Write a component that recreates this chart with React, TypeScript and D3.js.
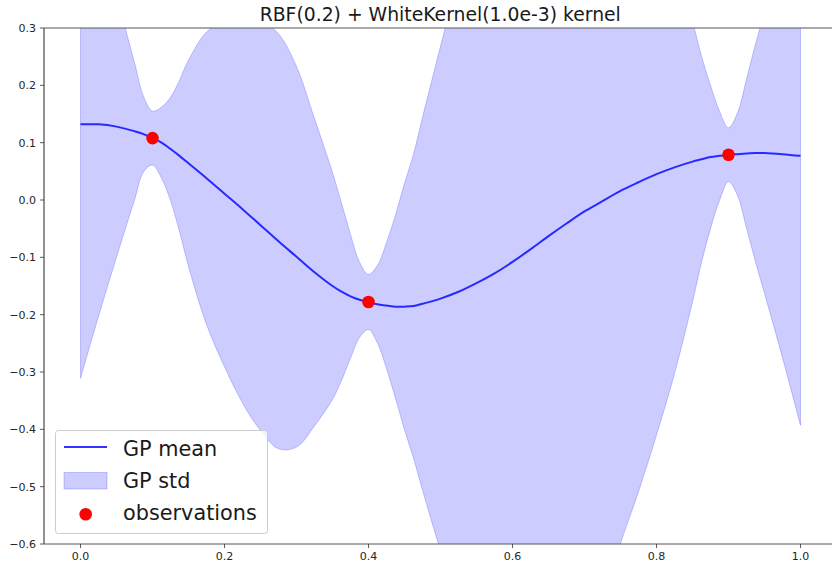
import React from "react";
import * as d3 from "d3";

const title = "RBF(0.2) + WhiteKernel(1.0e-3) kernel";

const gridX = [
  0.0, 0.025, 0.05, 0.075, 0.0875, 0.1, 0.1125, 0.125, 0.1375, 0.15, 0.175, 0.2, 0.225, 0.25, 0.275,
  0.3, 0.325, 0.35, 0.3625, 0.375, 0.3875, 0.4, 0.4125, 0.425, 0.4375, 0.45, 0.4625, 0.475, 0.5,
  0.525, 0.55, 0.575, 0.6, 0.625, 0.65, 0.675, 0.7, 0.725, 0.75, 0.775, 0.8, 0.825, 0.85, 0.8625,
  0.875, 0.8875, 0.9, 0.9125, 0.925, 0.9375, 0.95, 0.975, 1.0,
];

const gpMean = [
  0.132, 0.132, 0.128, 0.12, 0.115, 0.108, 0.1, 0.089, 0.077, 0.064, 0.038, 0.011, -0.016, -0.044, -0.072,
  -0.099, -0.126, -0.15, -0.16, -0.168, -0.174, -0.178, -0.182, -0.184, -0.186, -0.186, -0.185, -0.181, -0.172,
  -0.16, -0.145, -0.128, -0.108, -0.086, -0.063, -0.041, -0.02, -0.002, 0.016, 0.031, 0.045, 0.057, 0.067, 0.071,
  0.075, 0.077, 0.079, 0.08, 0.081, 0.082, 0.082, 0.08, 0.077,
];

const gpStd = [
  0.443, 0.335, 0.228, 0.12, 0.066, 0.047, 0.062, 0.09, 0.132, 0.18, 0.255, 0.302, 0.338, 0.358, 0.362,
  0.332, 0.268, 0.198, 0.155, 0.108, 0.066, 0.048, 0.068, 0.11, 0.16, 0.215, 0.265, 0.325, 0.44,
  0.55, 0.64, 0.71, 0.76, 0.79, 0.8, 0.79, 0.76, 0.7, 0.615, 0.54, 0.455, 0.36, 0.245, 0.18,
  0.125, 0.078, 0.047, 0.072, 0.13, 0.19, 0.245, 0.355, 0.47,
];

const obsX = [0.1, 0.4, 0.9];
const obsY = [0.108, -0.178, 0.079];

const xTicks = [0.0, 0.2, 0.4, 0.6, 0.8, 1.0];
const yTicks = [-0.6, -0.5, -0.4, -0.3, -0.2, -0.1, 0.0, 0.1, 0.2, 0.3];

const legendLabels = ["GP mean", "GP std", "observations"];

const W = 832;
const H = 564;
const L = 44;
const R = 836.5;
const T = 28;
const B = 544;

export default function App() {
  const x = d3.scaleLinear().domain([-0.05, 1.05]).range([L + 0.5, R]);
  const y = d3.scaleLinear().domain([-0.6, 0.3]).range([B, T]);
  const fmt = d3.format(".1f");

  const pts = gridX.map((v, i) => ({ x: v, m: gpMean[i], s: gpStd[i] }));
  const area = d3
    .area<any>()
    .x((d) => x(d.x))
    .y0((d) => y(d.m - d.s))
    .y1((d) => y(d.m + d.s))
    .curve(d3.curveCatmullRom.alpha(0.5));
  const line = d3
    .line<any>()
    .x((d) => x(d.x))
    .y((d) => y(d.m))
    .curve(d3.curveCatmullRom.alpha(0.5));

  const font = "'DejaVu Sans', sans-serif";

  return (
    <svg
      width={W}
      height={H}
      style={{ position: "absolute", left: 0, top: 0, background: "#fff" }}
      fontFamily={font}
    >
      <defs>
        <clipPath id="plotclip">
          <rect x={L} y={T} width={R - L} height={B - T} />
        </clipPath>
      </defs>
      <rect x={0} y={0} width={W} height={H} fill="#fff" />
      <g clipPath="url(#plotclip)">
        <path d={area(pts) || ""} fill="blue" fillOpacity={0.2} stroke="blue" strokeOpacity={0.2} strokeWidth={1} />
        <path d={line(pts) || ""} fill="none" stroke="blue" strokeOpacity={0.8} strokeWidth={2} />
        {obsX.map((v, i) => (
          <circle key={i} cx={x(v)} cy={y(obsY[i])} r={6.3} fill="red" />
        ))}
      </g>
      {/* spines */}
      <line x1={L} x2={L} y1={T} y2={B} stroke="#222" strokeWidth={1} />
      <line x1={L} x2={W} y1={B} y2={B} stroke="#555" strokeWidth={1} />
      <line x1={L} x2={W} y1={T} y2={T} stroke="#555" strokeWidth={1} />
      {/* x ticks */}
      {xTicks.map((t) => (
        <g key={t}>
          <line x1={x(t)} x2={x(t)} y1={B} y2={B + 4} stroke="#333" strokeWidth={0.8} />
          <text x={x(t)} y={560} fontSize={11} textAnchor="middle" fill="#262626">
            {fmt(t)}
          </text>
        </g>
      ))}
      {/* y ticks */}
      {yTicks.map((t) => (
        <g key={t}>
          <line x1={L - 4} x2={L} y1={y(t)} y2={y(t)} stroke="#333" strokeWidth={0.8} />
          <text x={36} y={y(t) + 4} fontSize={11} textAnchor="end" fill="#262626">
            {fmt(t)}
          </text>
        </g>
      ))}
      {/* title */}
      <text x={(L + R) / 2} y={21} fontSize={18.8} textAnchor="middle" fill="#1a1a1a">
        {title}
      </text>
      {/* legend */}
      <g>
        <rect x={55.5} y={430.5} width={212} height={103} rx={3} fill="#fff" fillOpacity={0.8} stroke="#ccc" strokeWidth={1} />
        <line x1={64} x2={107} y1={447} y2={447} stroke="blue" strokeOpacity={0.8} strokeWidth={2} />
        <rect x={64} y={472.5} width={43} height={16.5} fill="blue" fillOpacity={0.2} stroke="blue" strokeOpacity={0.2} />
        <circle cx={85.7} cy={514.3} r={6.3} fill="red" />
        {legendLabels.map((lab, i) => (
          <text key={lab} x={123} y={455.5 + i * 32.2} fontSize={20.8} fill="#1a1a1a">
            {lab}
          </text>
        ))}
      </g>
    </svg>
  );
}
